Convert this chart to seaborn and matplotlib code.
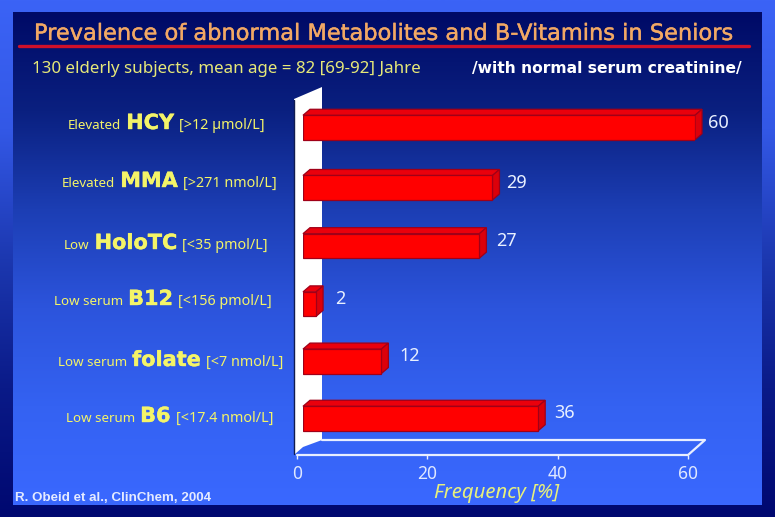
import matplotlib
matplotlib.use('Agg')
import matplotlib.pyplot as plt
import seaborn as sns
import numpy as np
import pandas as pd
from matplotlib.colors import LinearSegmentedColormap
from matplotlib.patches import Polygon
import matplotlib.patheffects as pe

# values
prefixes = ['Elevated', 'Elevated', 'Low', 'Low serum', 'Low serum', 'Low serum']
analytes = ['HCY', 'MMA', 'HoloTC', 'B12', 'folate', 'B6']
cutoffs = ['[>12 µmol/L]', '[>271 nmol/L]', '[<35 pmol/L]', '[<156 pmol/L]', '[<7 nmol/L]', '[<17.4 nmol/L]']
frequency = [60, 29, 27, 2, 12, 36]
x_ticks = [0, 20, 40, 60]

W, H = 775, 517
label_left = [68, 62, 64, 54, 58, 66]
label_base = [129, 187, 249, 305, 366, 422]
value_gap = [13, 14, 17, 19, 18, 16]
bar_shift = [0, 2, 2, 2, 1, 0]

sns.set_theme(style='white')
plt.rcParams['font.family'] = ['Noto Sans', 'DejaVu Sans']

fig = plt.figure(figsize=(W / 100, H / 100), dpi=100)


def px_axes(left, top, right, bottom):
    return fig.add_axes([left / W, 1 - bottom / H, (right - left) / W, (bottom - top) / H])


def heavy(color, width=0.3):
    return [pe.withStroke(linewidth=width, foreground=color)]


# background: outer frame and inner panel run in opposite directions
bg = fig.add_axes([0, 0, 1, 1])
bg.set_xlim(0, W)
bg.set_ylim(H, 0)
bg.axis('off')
outer = LinearSegmentedColormap.from_list('outer', ['#3b63f6', '#3358e6', '#1c38b0', '#0a1a88', '#000870'])
inner = LinearSegmentedColormap.from_list('inner', ['#000a66', '#0a2080', '#1c3eb4', '#2c54dc', '#3462f2', '#3a68ff'])
ramp = np.linspace(0, 1, 256).reshape(-1, 1)
bg.imshow(ramp, cmap=outer, aspect='auto', extent=(0, W, H, 0), zorder=0)
bg.imshow(ramp, cmap=inner, aspect='auto', extent=(13, 762, 505, 12), zorder=1)
bg.set_xlim(0, W)
bg.set_ylim(H, 0)

# back wall and floor of the 3d box
bg.add_patch(Polygon([(294, 99), (322, 87), (322, 440), (303, 447), (295, 454), (294, 454)],
                     facecolor='white', edgecolor='none', zorder=2))
bg.plot([294, 294], [100, 454], color='#101c50', lw=1, zorder=3)
bg.plot([297, 688, 705, 322], [455, 455, 440, 440], color='#e8eeff', lw=1.6, zorder=3)

# title block
bg.text(383, 40, 'Prevalence of abnormal Metabolites and B-Vitamins in Seniors', ha='center', va='baseline',
        color='#f2a864', fontsize=16.2, family='DejaVu Sans', zorder=4, path_effects=heavy('#f2a864'))
bg.plot([19, 749], [46, 46], color='#d0102a', lw=2.4, zorder=4)
bg.text(32, 73, '130 elderly subjects, mean age = 82 [69-92] Jahre', ha='left', va='baseline',
        color='#e6e878', fontsize=12.2, zorder=4)
bg.text(742, 73, '/with normal serum creatinine/', ha='right', va='baseline', color='white',
        fontsize=11.2, fontweight='bold', family='DejaVu Sans', zorder=4)
bg.text(15, 501, 'R. Obeid et al., ClinChem, 2004', ha='left', va='baseline', color='#e4eaff',
        fontsize=9.6, fontweight='bold', family='Liberation Sans', zorder=4)
bg.text(497, 498, 'Frequency [%]', ha='center', va='baseline', color='#e8f07c',
        fontsize=14.6, style='italic', zorder=4)

# category labels are made of three pieces with different sizes
renderer = fig.canvas.get_renderer()
for left, base, pre, name, cut in zip(label_left, label_base, prefixes, analytes, cutoffs):
    x = left
    for piece, size, weight, fam, gap in [(pre, 9.6, 'normal', 'Noto Sans', 5),
                                          (name, 15, 'bold', 'DejaVu Sans', 5),
                                          (cut, 10.3, 'normal', 'Noto Sans', 0)]:
        t = bg.text(x, base, piece, ha='left', va='baseline', color='#f4f468', fontsize=size,
                    fontweight=weight, family=fam, zorder=4)
        if weight == 'bold':
            t.set_path_effects(heavy('#f4f468'))
        x = bg.transData.inverted().transform(t.get_window_extent(renderer))[1, 0] + gap

# front faces of the bars
df = pd.DataFrame({'analyte': analytes, 'frequency': frequency})
ax = px_axes(303, 98.4, 695, 447.6)
ax.patch.set_alpha(0)
sns.barplot(data=df, x='frequency', y='analyte', color='#ff0000', saturation=1, width=0.42,
            edgecolor='#a00018', linewidth=0.9, ax=ax, zorder=3)
ax.set_xlim(0, 60)
ax.set_ylim(5.5, -0.5)
ax.axis('off')

# depth faces, 7 px back and 6 px up
dx = 7 * 60 / 392
dy = 6 / 58.2
for bar, value, shift, gap in zip(ax.patches, frequency, bar_shift, value_gap):
    bar.set_y(bar.get_y() + shift / 58.2)
    y0 = bar.get_y()
    y1 = y0 + bar.get_height()
    ax.add_patch(Polygon([(0, y0), (value, y0), (value + dx, y0 - dy), (dx, y0 - dy)], clip_on=False,
                         facecolor='#ea000c', edgecolor='#a00018', lw=0.9, zorder=2))
    ax.add_patch(Polygon([(value, y0), (value + dx, y0 - dy), (value + dx, y1 - dy), (value, y1)], clip_on=False,
                         facecolor='#dc000a', edgecolor='#a00018', lw=0.9, zorder=2))
    ax.annotate(str(value), (value, (y0 + y1) / 2), xytext=(gap, 5), textcoords='offset pixels',
                color='#e8f0ff', fontsize=13, ha='left', va='center', annotation_clip=False)

# visible axis sits on the front edge of the floor
ax_x = px_axes(297, 440, 688, 455)
ax_x.patch.set_alpha(0)
ax_x.set_xlim(0, 60)
ax_x.set_xticks(x_ticks)
ax_x.set_yticks([])
for side in ax_x.spines.values():
    side.set_visible(False)
ax_x.tick_params(axis='x', length=3, width=1, color='#e8eeff', labelcolor='#dfe8ff', labelsize=12.5, pad=4, bottom=True)

fig.savefig('out.png', dpi=100)
